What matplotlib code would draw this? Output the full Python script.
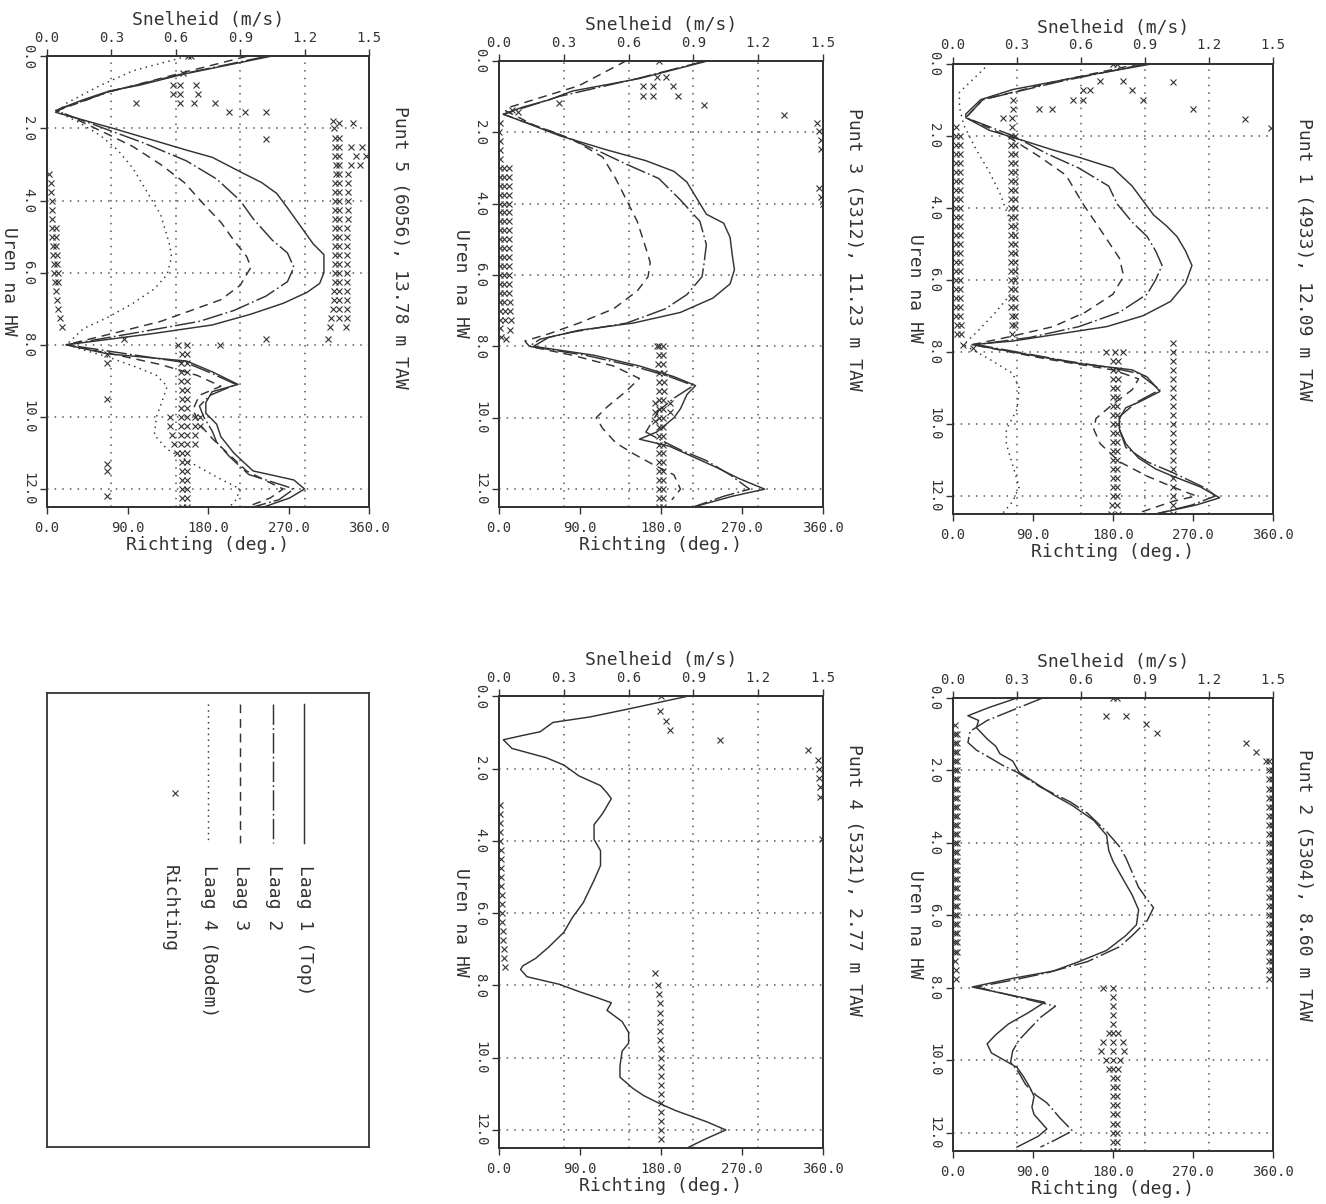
import matplotlib
matplotlib.use("Agg")
import matplotlib.pyplot as plt

plt.rcParams['font.family'] = ['DejaVu Sans Mono', 'DejaVu Sans']

INK = '#333333'
GRID = '#555555'

# tijd in kwartieren (uren na HW)
KWARTIER = [0.0, 0.25, 0.5, 0.75, 1.0, 1.25, 1.5, 1.75, 2.0, 2.25, 2.5, 2.75,
            3.0, 3.25, 3.5, 3.75, 4.0, 4.25, 4.5, 4.75, 5.0, 5.25, 5.5, 5.75,
            6.0, 6.25, 6.5, 6.75, 7.0, 7.25, 7.5, 7.75, 8.0, 8.25, 8.5, 8.75,
            9.0, 9.25, 9.5, 9.75, 10.0, 10.25, 10.5, 10.75, 11.0, 11.25, 11.5,
            11.75, 12.0, 12.25, 12.5]

SNELHEID_TICKS = [0.0, 0.3, 0.6, 0.9, 1.2, 1.5]
RICHTING_TICKS = [0, 90, 180, 270, 360]
UUR_TICKS = [0, 2, 4, 6, 8, 10, 12]
LEGENDA = ['Laag 1 (Top)', 'Laag 2', 'Laag 3', 'Laag 4 (Bodem)']

# ---------------- Punt 5 ----------------
p5_l1_uur = [0.0, 0.5, 0.8, 0.96, 1.2, 1.45, 1.55, 1.8, 2.0, 2.3, 2.6, 2.8, 3.2, 3.5, 3.8, 4.2, 4.7, 5.2, 5.5, 6.0, 6.3,
             6.55, 6.85, 7.15, 7.45, 7.7, 8.0, 8.25, 8.45, 8.75, 9.1, 9.3, 9.6, 9.9, 10.2, 10.55, 11.0, 11.5, 11.75,
             12.0, 12.25, 12.5]
p5_l1_v = [1.04, 0.63, 0.43, 0.29, 0.17, 0.06, 0.04, 0.19, 0.31, 0.48, 0.65, 0.77, 0.9, 1.0, 1.07, 1.12, 1.18, 1.24,
           1.29, 1.29, 1.27, 1.21, 1.1, 0.95, 0.77, 0.48, 0.09, 0.28, 0.65, 0.77, 0.89, 0.77, 0.74, 0.74, 0.79, 0.81,
           0.87, 0.96, 1.15, 1.2, 1.13, 1.01]
p5_l2_uur = [0.0, 0.5, 0.96, 1.5, 2.05, 2.4, 2.9, 3.4, 4.0, 4.5, 5.1, 5.45, 5.85, 6.25, 6.65, 7.05, 7.35, 7.65, 8.0,
             8.5, 8.8, 9.1, 9.4, 9.7, 10.0, 10.4, 10.7, 11.1, 11.6, 11.9, 12.0, 12.3, 12.5]
p5_l2_v = [1.02, 0.62, 0.3, 0.04, 0.29, 0.45, 0.65, 0.79, 0.9, 0.96, 1.05, 1.12, 1.15, 1.12, 1.02, 0.87, 0.71, 0.43,
           0.09, 0.65, 0.77, 0.88, 0.76, 0.71, 0.73, 0.77, 0.79, 0.85, 0.94, 1.1, 1.15, 1.08, 0.96]
p5_l3_uur = [0.0, 0.5, 1.0, 1.5, 2.15, 2.5, 3.0, 3.5, 4.1, 4.6, 5.1, 5.55, 5.85, 6.35, 6.75, 7.05, 7.35, 7.65, 8.0,
             8.3, 8.55, 8.85, 9.15, 9.4, 9.8, 10.2, 10.6, 11.0, 11.5, 11.8, 12.0, 12.25, 12.5]
p5_l3_v = [0.93, 0.6, 0.28, 0.05, 0.28, 0.4, 0.53, 0.64, 0.73, 0.81, 0.87, 0.93, 0.95, 0.9, 0.81, 0.67, 0.53, 0.33,
           0.09, 0.34, 0.53, 0.7, 0.81, 0.71, 0.68, 0.71, 0.77, 0.84, 0.93, 1.03, 1.1, 1.04, 0.93]
p5_l4_uur = [0.0, 0.4, 0.8, 1.3, 1.55, 1.8, 2.2, 2.6, 3.1, 3.7, 4.4, 5.2, 5.55, 6.05, 6.45, 6.85, 7.25, 7.55, 8.0,
             8.35, 8.65, 8.85, 9.15, 9.5, 10.0, 10.5, 10.9, 11.3, 11.7, 12.0, 12.3, 12.5]
p5_l4_v = [0.65, 0.4, 0.25, 0.09, 0.05, 0.14, 0.25, 0.33, 0.4, 0.46, 0.53, 0.57, 0.58, 0.56, 0.5, 0.4, 0.28, 0.17,
           0.09, 0.29, 0.43, 0.51, 0.56, 0.54, 0.51, 0.5, 0.56, 0.68, 0.8, 0.9, 0.88, 0.85]
p5_rt_los_uur = [0.0, 0.0, 0.45, 0.8, 0.8, 0.8, 1.05, 1.05, 1.05, 1.3, 1.3, 1.3, 1.3, 1.55, 1.55, 1.55, 1.8, 1.85,
                 1.85, 2.3, 7.85, 7.85, 7.85, 8.0, 8.0, 8.25, 8.5, 9.5, 11.3, 11.5, 12.2, 10.0, 10.0, 10.0, 10.25,
                 10.25, 10.25, 10.5, 10.5, 10.75, 10.75, 11.0, 2.5, 2.75, 3.0]
p5_rt_los_deg = [158, 161, 152, 141, 149, 167, 141, 149, 169, 100, 149, 164, 188, 203, 221, 245, 320, 327, 342, 245,
                 86, 245, 314, 147, 193, 67, 67, 67, 67, 67, 67, 138, 166, 171, 138, 166, 171, 140, 166, 142, 166,
                 145, 352, 357, 350]
p5_rt_a = [321, 322, 322, 322, 323, 323, 322, 322, 322, 322, 322, 322, 322, 322, 322, 322, 322, 322, 321, 321, 320,
           318, 316]
p5_rt_b = [326, 327, 327, 327, 327, 327, 327, 327, 327, 327, 327, 327, 327, 327, 327, 327, 327, 327, 327, 326, 326]
p5_rt_c = [340, 345, 340, 337, 336, 336, 336, 336, 336, 335, 335, 335, 335, 335, 335, 335, 335, 335, 335, 335, 334]
p5_rt_l = [2, 4, 5, 6, 6, 6, 6, 6, 7, 7, 8, 8, 9, 10, 11, 12, 14, 17]
p5_rt_l2 = [10, 10, 10, 11, 11, 12, 12]
p5_rt_d = [156, 157, 157, 157, 157, 157, 157, 157, 157, 157, 157, 157, 157, 157, 157, 157, 157, 157, 157]
p5_rt_e = [151, 150, 150, 150, 151, 151, 150, 150, 150, 150, 150, 151, 151, 151, 151, 151, 151, 151]

# ---------------- Punt 3 ----------------
p3_l1_uur = [0.0, 0.5, 0.85, 1.1, 1.3, 1.5, 1.75, 2.1, 2.5, 2.8, 3.1, 3.4, 3.8, 4.3, 4.55, 4.95, 5.45, 5.85, 6.25,
             6.65, 7.05, 7.35, 7.55, 7.75, 8.0, 8.25, 8.55, 8.85, 9.1, 9.35, 9.75, 10.0, 10.4, 10.6, 10.8, 11.1, 11.4,
             11.7, 12.0, 12.2, 12.5]
p3_l1_v = [0.97, 0.65, 0.34, 0.23, 0.11, 0.02, 0.13, 0.28, 0.5, 0.68, 0.81, 0.87, 0.91, 0.96, 1.04, 1.07, 1.08, 1.09,
           1.07, 0.99, 0.84, 0.62, 0.37, 0.23, 0.16, 0.44, 0.65, 0.81, 0.91, 0.87, 0.84, 0.81, 0.73, 0.65, 0.79, 0.9,
           1.01, 1.11, 1.23, 1.08, 0.9]
p3_l2_uur = [0.0, 0.5, 1.0, 1.5, 2.0, 2.5, 2.9, 3.3, 3.9, 4.5, 5.15, 5.65, 6.05, 6.55, 6.95, 7.35, 7.6, 7.8, 8.0, 8.25,
             8.55, 8.85, 9.1, 9.45, 9.8, 10.1, 10.4, 10.6, 10.9, 11.2, 11.6, 12.0, 12.2, 12.5]
p3_l2_v = [0.96, 0.64, 0.28, 0.02, 0.25, 0.45, 0.59, 0.74, 0.84, 0.93, 0.96, 0.95, 0.94, 0.87, 0.77, 0.59, 0.34, 0.19,
           0.14, 0.4, 0.62, 0.79, 0.9, 0.81, 0.74, 0.71, 0.68, 0.74, 0.84, 0.96, 1.07, 1.16, 1.04, 0.9]
p3_l3_uur = [0.0, 0.7, 1.3, 1.4, 1.8, 2.2, 2.7, 3.3, 3.9, 4.5, 5.25, 5.65, 6.05, 6.45, 6.95, 7.35, 7.65, 7.85, 8.0,
             8.25, 8.55, 8.9, 9.25, 9.7, 10.0, 10.3, 10.7, 11.0, 11.3, 11.6, 12.0, 12.3]
p3_l3_v = [0.59, 0.37, 0.05, 0.03, 0.16, 0.34, 0.48, 0.54, 0.59, 0.64, 0.68, 0.7, 0.69, 0.64, 0.53, 0.37, 0.23, 0.12,
           0.14, 0.34, 0.53, 0.65, 0.59, 0.5, 0.45, 0.48, 0.54, 0.62, 0.71, 0.81, 0.84, 0.8]
p3_rt_los_uur = [0.0, 0.45, 0.45, 0.71, 0.71, 0.71, 0.99, 0.99, 0.99, 1.19, 1.24, 1.51, 1.74, 1.98, 2.23, 2.48, 3.57,
                 3.82, 4.02, 1.39, 1.44, 7.55, 7.8, 8.0, 9.6, 9.85, 10.1, 9.6, 9.85]
p3_rt_los_deg = [178, 175, 186, 160, 171, 193, 160, 171, 199, 67, 228, 317, 353, 356, 358, 358, 356, 358, 360, 14,
                 21, 12, 8, 175, 173, 173, 173, 190, 190]
p3_rt_a = [1, 0, 1, 1, 1, 1, 1, 1, 1, 1, 1, 1, 1, 1, 1, 1, 1, 1, 1, 1, 1, 1, 1, 1, 2]
p3_rt_b = [6, 6, 6, 6, 6, 6, 6, 6, 6, 6, 6, 6, 6, 6, 6, 6, 7, 7]
p3_rt_c = [11, 11, 11, 11, 11, 11, 11, 11, 11, 11, 11, 11, 11, 11, 11, 12, 12, 13]
p3_rt_d = [178, 178, 177, 178, 178, 178, 178, 178, 178, 178, 178, 178, 178, 178, 178, 178, 178, 178, 178]
p3_rt_e = [182, 182, 182, 183, 183, 183, 182, 182, 182, 182, 182, 182, 182, 182, 182, 182, 182, 182, 182]

# ---------------- Punt 1 ----------------
p1_l1_uur = [0.0, 0.37, 0.72, 1.0, 1.4, 1.5, 1.85, 2.1, 2.4, 2.6, 2.9, 3.4, 3.8, 4.2, 4.5, 4.8, 5.2, 5.6, 6.1, 6.6,
             7.0, 7.3, 7.5, 7.7, 7.8, 8.0, 8.2, 8.3, 8.5, 8.7, 9.1, 9.4, 9.55, 9.85, 10.15, 10.55, 10.95, 11.25, 11.45,
             11.75, 12.05, 12.25, 12.5]
p1_l1_v = [0.94, 0.59, 0.28, 0.13, 0.06, 0.06, 0.17, 0.31, 0.47, 0.59, 0.75, 0.84, 0.89, 0.94, 1.0, 1.05, 1.09, 1.12,
           1.09, 1.02, 0.89, 0.72, 0.5, 0.28, 0.09, 0.28, 0.47, 0.56, 0.84, 0.91, 0.97, 0.87, 0.81, 0.78, 0.78, 0.81,
           0.87, 0.95, 1.03, 1.16, 1.25, 1.14, 0.95]
p1_l2_uur = [0.0, 0.5, 1.0, 1.5, 2.0, 2.5, 2.9, 3.4, 3.9, 4.4, 4.8, 5.2, 5.6, 6.0, 6.4, 6.9, 7.3, 7.6, 7.8, 8.25, 8.45,
             8.6, 9.05, 9.4, 9.8, 10.15, 10.65, 11.05, 11.35, 11.8, 12.0, 12.25, 12.5]
p1_l2_v = [0.91, 0.5, 0.14, 0.06, 0.28, 0.44, 0.59, 0.73, 0.77, 0.84, 0.91, 0.95, 0.98, 0.95, 0.91, 0.78, 0.59, 0.36,
           0.11, 0.53, 0.75, 0.87, 0.97, 0.86, 0.78, 0.78, 0.81, 0.91, 1.03, 1.19, 1.23, 1.12, 0.95]
p1_l3_uur = [0.0, 0.5, 1.0, 1.5, 2.0, 2.6, 3.1, 3.9, 4.6, 5.4, 5.9, 6.4, 6.9, 7.3, 7.6, 7.8, 8.2, 8.5, 8.75, 9.05,
             9.45, 9.85, 10.15, 10.55, 11.05, 11.45, 11.75, 12.0, 12.15, 12.45]
p1_l3_v = [0.88, 0.48, 0.14, 0.06, 0.25, 0.41, 0.53, 0.61, 0.69, 0.78, 0.8, 0.75, 0.62, 0.47, 0.25, 0.09, 0.44, 0.75,
           0.87, 0.84, 0.75, 0.67, 0.66, 0.69, 0.78, 0.91, 1.03, 1.14, 1.03, 0.88]
p1_l4_uur = [0.0, 0.4, 0.8, 1.2, 1.7, 2.4, 3.0, 3.6, 4.4, 5.2, 5.8, 6.4, 6.9, 7.4, 7.8, 8.2, 8.6, 9.0, 9.6, 10.15,
             10.55, 11.15, 11.75, 12.15, 12.5]
p1_l4_v = [0.17, 0.1, 0.03, 0.03, 0.05, 0.11, 0.17, 0.22, 0.27, 0.3, 0.3, 0.27, 0.2, 0.12, 0.05, 0.17, 0.28, 0.31,
           0.3, 0.25, 0.25, 0.28, 0.31, 0.28, 0.23]
p1_rt_los_uur = [0.0, 0.0, 0.47, 0.47, 0.52, 0.72, 0.72, 0.72, 1.0, 1.0, 1.0, 1.26, 1.26, 1.26, 1.5, 1.55, 1.8, 7.8,
                 7.9, 8.0, 8.0, 8.0]
p1_rt_los_deg = [180, 184, 165, 191, 247, 146, 154, 201, 135, 146, 214, 97, 111, 270, 56, 328, 358, 11, 22, 172, 182,
                 191]
p1_rt_a = [3, 3, 3, 3, 3, 3, 3, 3, 3, 3, 3, 3, 3, 3, 3, 3, 3, 3, 3, 3, 3, 3, 4, 4]
p1_rt_b = [8, 8, 8, 8, 8, 8, 8, 8, 8, 8, 8, 8, 8, 8, 8, 8, 8, 8, 8, 8, 8, 9, 9]
p1_rt_c = [68, 67, 66, 66, 65, 65, 65, 65, 65, 65, 65, 65, 65, 65, 65, 65, 65, 65, 65, 65, 65, 65, 65, 65, 66, 66, 66]
p1_rt_d = [70, 70, 70, 70, 70, 70, 70, 70, 70, 70, 70, 70, 70, 70, 70, 70, 70, 70, 70, 70, 70, 70]
p1_rt_e = [180, 180, 180, 180, 180, 180, 180, 180, 180, 180, 180, 180, 180, 180, 180, 180, 179, 178]
p1_rt_f = [186, 186, 186, 185, 185, 185, 185, 185, 185, 185, 185, 185, 185, 185, 185, 185, 185, 186]
p1_rt_g = [247, 247, 247, 247, 247, 247, 247, 247, 247, 247, 247, 247, 247, 247, 247, 247, 247, 247, 247, 247]

# ---------------- Punt 4 ----------------
p4_l1_uur = [0.0, 0.36, 0.57, 0.72, 0.98, 1.08, 1.2, 1.44, 1.7, 1.9, 2.2, 2.47, 2.67, 2.83, 3.24, 3.55, 3.96, 4.27,
             4.68, 5.09, 5.71, 6.12, 6.53, 6.94, 7.25, 7.46, 7.56, 7.76, 7.97, 8.17, 8.33, 8.48, 8.69, 9.0, 9.3, 9.6,
             9.82, 10.23, 10.54, 10.85, 11.05, 11.26, 11.47, 11.77, 12.0, 12.24, 12.47]
p4_l1_v = [0.87, 0.59, 0.42, 0.25, 0.19, 0.11, 0.02, 0.06, 0.22, 0.3, 0.37, 0.47, 0.5, 0.52, 0.48, 0.44, 0.44, 0.47,
           0.47, 0.44, 0.39, 0.34, 0.3, 0.23, 0.17, 0.11, 0.1, 0.13, 0.28, 0.37, 0.45, 0.52, 0.5, 0.57, 0.6, 0.6,
           0.57, 0.56, 0.56, 0.62, 0.67, 0.74, 0.82, 0.96, 1.05, 0.96, 0.88]
p4_rt_los_uur = [0.0, 0.41, 0.67, 0.93, 1.2, 1.49, 1.75, 2.0, 2.26, 2.52, 2.78, 3.96, 7.66]
p4_rt_los_deg = [180, 179, 186, 190, 245, 343, 354, 356, 356, 357, 357, 359, 173]
p4_rt_a = [1, 1, 1, 1, 1, 2, 2, 2, 2, 2, 3, 3, 3, 3, 4, 4, 5, 6, 7]
p4_rt_b = [177, 178, 179, 179, 179, 179, 179, 180, 180, 180, 180, 180, 180, 180, 180, 180, 180, 180]

# ---------------- Punt 2 ----------------
p2_l1_uur = [0.0, 0.26, 0.49, 0.62, 0.82, 1.13, 1.33, 1.54, 1.74, 2.05, 2.36, 2.67, 2.97, 3.38, 3.79, 4.21, 4.51,
             5.03, 5.44, 5.85, 6.26, 6.56, 6.97, 7.28, 7.54, 7.74, 7.98, 8.4, 8.7, 9.0, 9.3, 9.55, 9.8, 10.0, 10.2,
             10.45, 10.75, 11.0, 11.3, 11.5, 11.9, 12.1, 12.4]
p2_l1_v = [0.3, 0.17, 0.07, 0.12, 0.11, 0.16, 0.2, 0.22, 0.28, 0.31, 0.39, 0.47, 0.56, 0.66, 0.72, 0.73, 0.75, 0.8,
           0.84, 0.87, 0.86, 0.81, 0.72, 0.59, 0.47, 0.28, 0.09, 0.43, 0.35, 0.26, 0.2, 0.16, 0.18, 0.24, 0.3, 0.33,
           0.36, 0.38, 0.37, 0.38, 0.44, 0.4, 0.3]
p2_l2_uur = [0.0, 0.62, 0.92, 1.23, 1.44, 1.64, 1.85, 2.05, 2.46, 2.87, 3.18, 3.69, 4.1, 4.41, 4.82, 5.23, 5.64, 5.79,
             6.15, 6.56, 6.87, 7.28, 7.59, 7.79, 7.98, 8.31, 8.51, 8.82, 9.13, 9.44, 9.74, 10.05, 10.36, 10.67, 10.97,
             11.18, 11.38, 11.59, 11.95, 12.2, 12.4]
p2_l2_v = [0.42, 0.16, 0.08, 0.07, 0.11, 0.17, 0.23, 0.3, 0.41, 0.55, 0.63, 0.72, 0.78, 0.81, 0.84, 0.87, 0.92, 0.94,
           0.91, 0.84, 0.78, 0.63, 0.44, 0.28, 0.11, 0.34, 0.48, 0.41, 0.36, 0.31, 0.28, 0.27, 0.31, 0.34, 0.39, 0.44,
           0.47, 0.5, 0.56, 0.48, 0.41]
p2_rt_los_uur = [0.0, 0.0, 0.49, 0.49, 0.72, 0.97, 1.23, 1.49, 1.74, 8.0, 8.0, 9.25, 9.25, 9.5, 9.5, 9.75, 9.75, 10.0,
                 10.0, 10.25, 10.25]
p2_rt_los_deg = [180, 184, 172, 195, 217, 229, 330, 341, 352, 169, 180, 175, 186, 169, 191, 167, 192, 172, 188, 176,
                 186]
p2_rt_a = [356, 356, 356, 356, 356, 356, 356, 356, 356, 356, 356, 356, 356, 356, 356, 356, 356, 356, 356, 356, 356,
           356, 356, 356, 356]
p2_rt_b = [359, 359, 359, 359, 359, 359, 359, 359, 359, 359, 359, 359, 359, 359, 359, 359, 359, 359, 359, 359, 359,
           359, 359]
p2_rt_c = [2, 2, 2, 2, 2, 2, 2, 2, 2, 2, 2, 2, 2, 2, 2, 2, 2, 2, 2, 2, 2, 2, 2, 2, 2, 2, 2, 3, 3]
p2_rt_d = [5, 5, 5, 5, 5, 5, 5, 5, 5, 5, 5, 5, 5, 5, 5, 5, 5, 5, 5, 5, 5, 5, 5, 5, 5]
p2_rt_e = [180, 180, 180, 180, 180, 180, 180, 180, 180, 180, 180, 180, 180, 180, 180, 180, 180, 180]
p2_rt_f = [185, 185, 185, 185, 185, 185, 185, 185, 185]

STIJL = ['-', (0, (14, 2.2, 1.2, 2.2)), (0, (6, 4)), (0, (1, 3))]

W, H = 1326, 1204
fig = plt.figure(figsize=(W / 100, H / 100), dpi=100)
fig.patch.set_facecolor('white')


def px(l, t, r, b):
    return [l / W, 1 - b / H, (r - l) / W, (b - t) / H]


def paneel(box, lagen, richting, titel, titel_y):
    ax = fig.add_axes(px(*box))
    ax2 = ax.twiny()
    ax.set_xlim(0, 1.5)
    ax.set_ylim(12.5, 0)
    ax2.set_xlim(0, 360)
    for i, (uur, v) in enumerate(lagen):
        ax.plot(v, uur, color=INK, lw=1.05, ls=STIJL[i])
    for uur, deg in richting:
        ax2.plot(deg, uur, ls='none', marker='x', ms=3.8, mew=0.8, color=INK)

    ax.set_xticks(SNELHEID_TICKS, labels=[f'{t:.1f}' for t in SNELHEID_TICKS])
    ax.set_yticks(UUR_TICKS, labels=[f'{t:.1f}' for t in UUR_TICKS], rotation=-90, va='center')
    ax.tick_params(axis='x', top=True, bottom=False, labeltop=True, labelbottom=False,
                   direction='out', length=5, width=1, pad=3, labelsize=10, colors=INK)
    ax.tick_params(axis='y', left=True, right=False, direction='out', length=5, width=1,
                   pad=3.5, labelsize=10, colors=INK)
    ax.grid(True, ls=(0, (1, 4)), color=GRID, lw=1.1)
    ax2.set_xticks(RICHTING_TICKS, labels=[f'{t:.1f}' for t in RICHTING_TICKS])
    ax2.tick_params(axis='x', top=False, bottom=True, labeltop=False, labelbottom=True,
                    direction='out', length=5, width=1, pad=5, labelsize=10, colors=INK)
    for a in (ax, ax2):
        for s in a.spines.values():
            s.set_linewidth(1.3)
            s.set_color(INK)

    ax.text(0.5, 1.08, 'Snelheid (m/s)', transform=ax.transAxes, ha='center', va='center',
            fontsize=13, color=INK)
    ax.text(0.5, -0.085, 'Richting (deg.)', transform=ax.transAxes, ha='center', va='center',
            fontsize=13, color=INK)
    ax.text(-0.118, 0.5, 'Uren na HW', transform=ax.transAxes, rotation=-90, ha='center',
            va='center', fontsize=13, color=INK)
    ax.text(1.097, titel_y, titel, transform=ax.transAxes, rotation=-90, ha='center',
            va='center', fontsize=13, color=INK)


paneel((47, 56.4, 369, 507),
       [(p5_l1_uur, p5_l1_v), (p5_l2_uur, p5_l2_v), (p5_l3_uur, p5_l3_v), (p5_l4_uur, p5_l4_v)],
       [(p5_rt_los_uur, p5_rt_los_deg), (KWARTIER[8:31], p5_rt_a), (KWARTIER[9:30], p5_rt_b),
        (KWARTIER[10:31], p5_rt_c), (KWARTIER[13:31], p5_rt_l), (KWARTIER[19:26], p5_rt_l2),
        (KWARTIER[32:51], p5_rt_d), (KWARTIER[33:51], p5_rt_e)],
       'Punt 5 (6056), 13.78 m TAW', 0.577)

paneel((499, 60.7, 823, 507),
       [(p3_l1_uur, p3_l1_v), (p3_l2_uur, p3_l2_v), (p3_l3_uur, p3_l3_v)],
       [(p3_rt_los_uur, p3_rt_los_deg), (KWARTIER[7:32], p3_rt_a), (KWARTIER[12:30], p3_rt_b),
        (KWARTIER[12:30], p3_rt_c), (KWARTIER[32:51], p3_rt_d), (KWARTIER[32:51], p3_rt_e)],
       'Punt 3 (5312), 11.23 m TAW', 0.578)

paneel((953, 63.6, 1273, 514),
       [(p1_l1_uur, p1_l1_v), (p1_l2_uur, p1_l2_v), (p1_l3_uur, p1_l3_v), (p1_l4_uur, p1_l4_v)],
       [(p1_rt_los_uur, p1_rt_los_deg), (KWARTIER[7:31], p1_rt_a), (KWARTIER[8:31], p1_rt_b),
        (KWARTIER[4:31], p1_rt_c), (KWARTIER[8:30], p1_rt_d), (KWARTIER[33:51], p1_rt_e),
        (KWARTIER[33:51], p1_rt_f), (KWARTIER[31:51], p1_rt_g)],
       'Punt 1 (4933), 12.09 m TAW', 0.566)

paneel((499, 696.4, 823, 1148),
       [(p4_l1_uur, p4_l1_v)],
       [(p4_rt_los_uur, p4_rt_los_deg), (KWARTIER[12:31], p4_rt_a), (KWARTIER[32:50], p4_rt_b)],
       'Punt 4 (5321), 2.77 m TAW', 0.593)

paneel((953, 698, 1273, 1150.7),
       [(p2_l1_uur, p2_l1_v), (p2_l2_uur, p2_l2_v)],
       [(p2_rt_los_uur, p2_rt_los_deg), (KWARTIER[7:32], p2_rt_a), (KWARTIER[8:31], p2_rt_b),
        (KWARTIER[3:32], p2_rt_c), (KWARTIER[4:29], p2_rt_d), (KWARTIER[33:51], p2_rt_e),
        (KWARTIER[42:51], p2_rt_f)],
       'Punt 2 (5304), 8.60 m TAW', 0.588)

# legenda (gedraaid, zoals het origineel)
leg = fig.add_axes(px(47, 692.6, 369, 1147))
leg.set_xlim(0, 1)
leg.set_ylim(0, 1)
leg.set_xticks([])
leg.set_yticks([])
for s in leg.spines.values():
    s.set_linewidth(1.3)
    s.set_color(INK)
for naam, x, stijl in zip(LEGENDA, [0.798, 0.702, 0.599, 0.5], STIJL):
    leg.plot([x, x], [0.975, 0.668], color=INK, lw=1.05, ls=stijl)
    leg.text(x + 0.004, 0.62, naam, rotation=-90, ha='center', va='top', fontsize=13, color=INK)
leg.plot([0.398], [0.779], ls='none', marker='x', ms=3.8, mew=0.8, color=INK)
leg.text(0.382, 0.62, 'Richting', rotation=-90, ha='center', va='top', fontsize=13, color=INK)

fig.savefig('out.png', dpi=100, facecolor='white')
